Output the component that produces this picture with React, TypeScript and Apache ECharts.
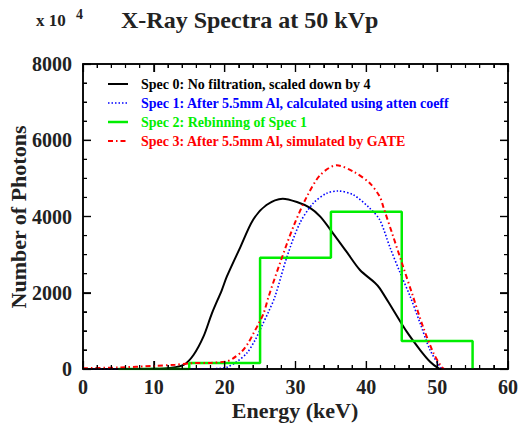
import React, { useEffect, useRef } from "react";
import * as echarts from "echarts";

const titleText = "X-Ray Spectra at 50 kVp";
const xName = "Energy (keV)";
const yName = "Number of Photons";
const seriesNames = [
  "Spec 0: No filtration, scaled down by 4",
  "Spec 1: After 5.5mm Al, calculated using atten coeff",
  "Spec 2: Rebinning of Spec 1",
  "Spec 3: After 5.5mm Al, simulated by GATE",
];
const seriesColors = ["#000000", "#0000ff", "#00ee00", "#ff0000"];

const spec0Energy = [0, 5, 10, 12.3, 14.2, 15.6, 17.0, 18.2, 19.6, 20.3, 22.2, 24.0, 25.9, 28.2, 30.2, 32.0, 33.5, 35.3, 37.2, 39.1, 41.2, 41.9, 43.8, 45.7, 47.6, 49.0, 50.2, 50.6];
const spec0Counts = [0, 0, 5, 26, 105, 367, 847, 1460, 2072, 2422, 3191, 3908, 4301, 4467, 4380, 4231, 3995, 3558, 3077, 2597, 2264, 2116, 1547, 979, 498, 192, 17, 0];

const spec1Energy = [0, 10, 15, 18.9, 20.3, 21.7, 23.1, 24.3, 25.2, 26.2, 27.1, 28.8, 30.6, 32.5, 34.4, 36.0, 38.2, 40.5, 41.9, 43.3, 44.8, 46.2, 47.6, 49.0, 50.6, 51.0];
const spec1Counts = [0, 0, 2, 10, 45, 192, 411, 760, 1110, 1503, 1897, 2946, 3821, 4346, 4608, 4669, 4564, 4214, 3908, 3208, 2510, 1897, 1198, 498, 17, 0];

const spec2Edges = [5, 15, 25, 35, 45, 55];
const spec2Counts = [0, 157, 2920, 4126, 734, 0];

const spec3Energy = [0, 5, 10, 13, 15.1, 18, 20.3, 21.2, 22.4, 23.3, 24.0, 24.7, 25.5, 26.2, 27.8, 29.7, 31.6, 33.5, 35.8, 38.2, 40.5, 41.9, 42.4, 43.8, 45.2, 46.6, 48.0, 49.5, 50.6, 51.0];
const spec3Counts = [20, 40, 80, 110, 150, 160, 200, 280, 454, 673, 910, 1154, 1460, 1897, 2772, 3733, 4520, 5089, 5343, 5176, 4871, 4520, 4250, 3470, 2683, 1897, 1110, 411, 60, 0];

const xMin = 0, xMax = 60, xInterval = 10, xSplit = 5;
const yMin = 0, yMax = 8000, yInterval = 2000, ySplit = 4;

const pairs = (xs: number[], ys: number[]) => xs.map((x, i) => [x, ys[i]]);

const FONT = "'Liberation Serif', 'DejaVu Serif', serif";
const TEXT_COLOR = "#222";
const seriesDash: any[] = ["solid", [1.5, 2], "solid", [5, 3, 1.5, 3]];
const legendDash: any[] = [null, [1.5, 2], null, [5, 3, 1.5, 3]];
const lineWidths = [2, 1.6, 2.5, 2];

function makeAxis(kind: "x" | "y", position: string, withLabels: boolean) {
  const isX = kind === "x";
  return {
    type: "value",
    gridIndex: 0,
    position,
    min: isX ? xMin : yMin,
    max: isX ? xMax : yMax,
    interval: isX ? xInterval : yInterval,
    axisLine: { show: true, onZero: false, lineStyle: { color: "#000", width: 1.5 } },
    axisTick: { show: true, inside: true, length: 8, lineStyle: { color: "#000", width: 1.2 } },
    minorTick: { show: true, splitNumber: isX ? xSplit : ySplit, length: 4, lineStyle: { color: "#000", width: 1 } },
    splitLine: { show: false },
    axisLabel: withLabels
      ? {
          show: true,
          fontFamily: FONT,
          fontWeight: "bold",
          fontSize: 20,
          color: TEXT_COLOR,
          margin: isX ? 8 : 11,
          formatter: (v: number) => String(v),
        }
      : { show: false },
  };
}

function Chart() {
  const ref = useRef<HTMLDivElement>(null);
  useEffect(() => {
    if (!ref.current) return;
    const chart = echarts.init(ref.current, undefined, { renderer: "svg" });

    const legendGraphics: any[] = [];
    seriesNames.forEach((n, i) => {
      const cy = 84 + i * 19;
      legendGraphics.push({
        type: "line",
        shape: { x1: 108, y1: cy, x2: 128, y2: cy },
        style: { stroke: seriesColors[i], lineWidth: lineWidths[i], lineDash: legendDash[i] },
      });
      legendGraphics.push({
        type: "text",
        x: 141,
        y: cy,
        style: {
          text: n,
          fill: seriesColors[i],
          fontFamily: FONT,
          fontWeight: "bold",
          fontSize: 14,
          verticalAlign: "middle",
          align: "left",
        },
      });
    });

    const baseGraphics: any[] = [
      {
        type: "text",
        x: 121,
        y: 8,
        style: { text: titleText, fontFamily: FONT, fontWeight: "bold", fontSize: 24, fill: TEXT_COLOR },
      },
      {
        type: "text",
        x: 36,
        y: 12,
        style: { text: "x 10", fontFamily: FONT, fontWeight: "bold", fontSize: 17, fill: TEXT_COLOR },
      },
      {
        type: "text",
        x: 76,
        y: 7,
        style: { text: "4", fontFamily: FONT, fontWeight: "bold", fontSize: 14, fill: TEXT_COLOR },
      },
      {
        type: "text",
        x: 295,
        y: 410,
        style: {
          text: xName, fontFamily: FONT, fontWeight: "bold", fontSize: 22, fill: TEXT_COLOR,
          align: "center", verticalAlign: "middle",
        },
      },
      {
        type: "text",
        x: 18,
        y: 217,
        rotation: Math.PI / 2,
        style: {
          text: yName, fontFamily: FONT, fontWeight: "bold", fontSize: 22, fill: TEXT_COLOR,
          align: "center", verticalAlign: "middle",
        },
      },
      ...legendGraphics,
    ];

    const option: any = {
      animation: false,
      graphic: baseGraphics,
      grid: { left: 83, right: 12, top: 64, bottom: 57, outerBoundsMode: "none" },
      xAxis: [makeAxis("x", "bottom", true), makeAxis("x", "top", false)],
      yAxis: [makeAxis("y", "left", true), makeAxis("y", "right", false)],
      series: [0, 1, 2, 3].map((i) => {
        const data =
          i === 0 ? pairs(spec0Energy, spec0Counts)
          : i === 1 ? pairs(spec1Energy, spec1Counts)
          : i === 2 ? pairs(spec2Edges, spec2Counts)
          : pairs(spec3Energy, spec3Counts);
        return {
          type: "line",
          xAxisIndex: 0,
          yAxisIndex: 0,
          data,
          smooth: i === 2 ? false : 0.3,
          step: i === 2 ? "end" : false,
          symbol: "none",
          lineStyle: { color: seriesColors[i], width: lineWidths[i], type: seriesDash[i] },
          itemStyle: { color: seriesColors[i] },
        };
      }),
    };
    chart.setOption(option);

    // Frame and ticks positioned through the chart's own scales (mirrors the axes on all sides).
    try {
      const toPx = (x: number, y: number) => chart.convertToPixel({ gridIndex: 0 } as any, [x, y]) as number[];
      const p0 = toPx(xMin, yMin);
      const p1 = toPx(xMax, yMax);
      const left = p0[0], bottom = p0[1], right = p1[0], top = p1[1];
      const frame: any[] = [
        {
          type: "rect",
          shape: { x: left, y: top, width: right - left, height: bottom - top },
          style: { fill: "none", stroke: "#000", lineWidth: 1.5 },
          z: 10,
        },
      ];
      const xStep = xInterval / xSplit;
      for (let v = xMin; v <= xMax + 1e-9; v += xStep) {
        const isMajor = Math.abs(v / xInterval - Math.round(v / xInterval)) < 1e-6;
        const len = isMajor ? 8 : 4;
        const px = toPx(v, yMin)[0];
        frame.push({ type: "line", z: 10, shape: { x1: px, y1: bottom, x2: px, y2: bottom - len }, style: { stroke: "#000", lineWidth: 1.2 } });
        frame.push({ type: "line", z: 10, shape: { x1: px, y1: top, x2: px, y2: top + len }, style: { stroke: "#000", lineWidth: 1.2 } });
      }
      const yStep = yInterval / ySplit;
      for (let v = yMin; v <= yMax + 1e-9; v += yStep) {
        const isMajor = Math.abs(v / yInterval - Math.round(v / yInterval)) < 1e-6;
        const len = isMajor ? 8 : 4;
        const py = toPx(xMin, v)[1];
        frame.push({ type: "line", z: 10, shape: { x1: left, y1: py, x2: left + len, y2: py }, style: { stroke: "#000", lineWidth: 1.2 } });
        frame.push({ type: "line", z: 10, shape: { x1: right, y1: py, x2: right - len, y2: py }, style: { stroke: "#000", lineWidth: 1.2 } });
      }
      if (isFinite(left) && isFinite(top) && isFinite(right) && isFinite(bottom)) {
        chart.setOption({ graphic: [...baseGraphics, ...frame] } as any);
      }
    } catch (e) {
      // keep the chart as drawn by the axes
    }
    return () => chart.dispose();
  }, []);
  return <div ref={ref} style={{ width: 520, height: 426, display: "inline-block" }} />;
}

export default function App() {
  return (
    <div style={{ position: "absolute", left: 0, top: 0, width: 520, height: 426, fontSize: 0, background: "#fff" }}>
      <Chart />
    </div>
  );
}
